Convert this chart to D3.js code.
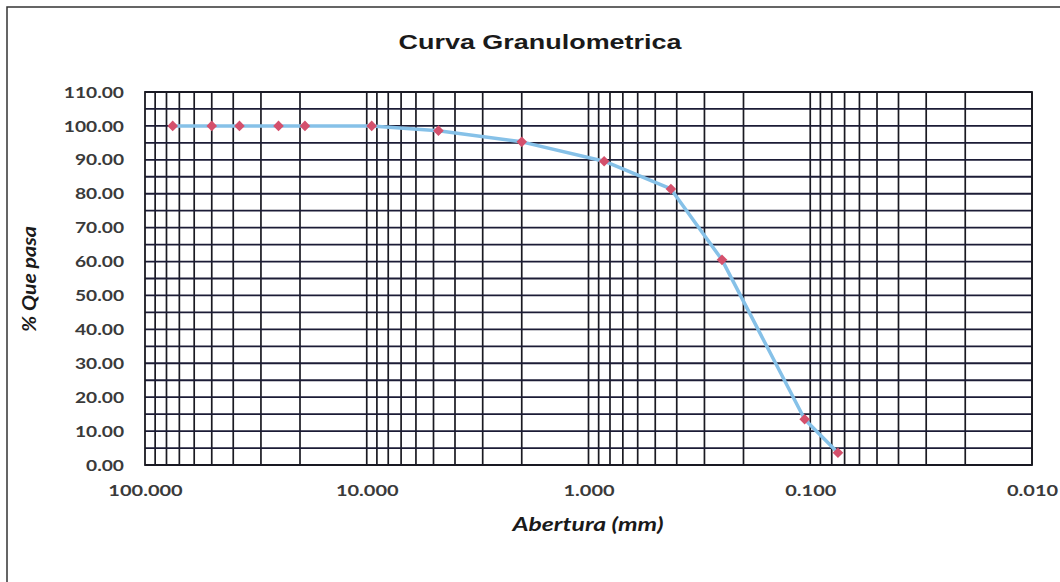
<!DOCTYPE html>
<html><head><meta charset="utf-8">
<script src="https://cdn.jsdelivr.net/npm/d3@7"></script>
<style>
body{margin:0;background:#fff;}
svg{display:block;}
</style></head>
<body>
<svg id="c" width="1060" height="582"></svg>
<script>
const aberturas = [75, 50, 37.5, 25, 19, 9.5, 4.75, 2.0, 0.85, 0.425, 0.25, 0.106, 0.075];
const pasa = [100, 100, 100, 100, 100, 100, 98.6, 95.3, 89.6, 81.4, 60.5, 13.5, 3.6];
const xTickValues = [100, 10, 1, 0.1, 0.01];
const yTickValues = [0, 10, 20, 30, 40, 50, 60, 70, 80, 90, 100, 110];
const yGridValues = d3.range(0, 111, 5);
const titulo = "Curva Granulometrica";
const xTitulo = "Abertura (mm)";
const yTitulo = "% Que pasa";

const svg = d3.select("#c");
const m = {l:145, r:1032, t:92, b:465};
const x = d3.scaleLog().domain([100, 0.01]).range([m.l, m.r]);
const y = d3.scaleLinear().domain([0, 110]).range([m.b, m.t]);
const FONT = "Lato, 'Open Sans', sans-serif";

function stretch(sel, k) {
  sel.each(function(){
    const L = this.getComputedTextLength();
    d3.select(this).attr("textLength", L*k).attr("lengthAdjust","spacingAndGlyphs");
  });
}

// outer frame
svg.append("rect").attr("x",7).attr("y",7).attr("width",1100).attr("height",700)
  .attr("fill","none").attr("stroke","#333").attr("stroke-width",1.5);

// vertical grid (log minors)
const xGrid = [];
[10, 1, 0.1, 0.01].forEach(dec => { for (let k=1;k<=9;k++) xGrid.push(dec*k); });
svg.append("g").selectAll("line").data(xGrid).join("line")
  .attr("x1", d=>x(d)).attr("x2", d=>x(d)).attr("y1", m.t).attr("y2", m.b)
  .attr("stroke","#1a1a22").attr("stroke-width",1.7);

// horizontal grid
svg.append("g").selectAll("line").data(yGridValues).join("line")
  .attr("x1", m.l).attr("x2", m.r).attr("y1", d=>y(d)).attr("y2", d=>y(d))
  .attr("stroke","#1c1c36").attr("stroke-width",1.8);

// plot border
svg.append("rect").attr("x",m.l).attr("y",m.t).attr("width",m.r-m.l).attr("height",m.b-m.t)
  .attr("fill","none").attr("stroke","#1a1a22").attr("stroke-width",1.8);

// y axis labels
const yAxis = d3.axisLeft(y).tickValues(yTickValues).tickFormat(d3.format(".2f")).tickSize(0).tickPadding(21);
const ya = svg.append("g").attr("transform",`translate(${m.l},0)`).call(yAxis);
ya.select(".domain").remove();
ya.selectAll("text").attr("font-family",FONT).attr("font-size",16)
  .attr("font-weight","bold").attr("fill","#3a3a3a").call(stretch, 1.2);

// x axis labels
const xAxis = d3.axisBottom(x).tickValues(xTickValues).tickFormat(d3.format(".3f")).tickSize(0).tickPadding(20);
const xa = svg.append("g").attr("transform",`translate(0,${m.b})`).call(xAxis);
xa.select(".domain").remove();
xa.selectAll("text").attr("font-family",FONT).attr("font-size",16)
  .attr("font-weight","bold").attr("fill","#3a3a3a").call(stretch, 1.25);

// line
const pts = aberturas.map((a,i)=>[a,pasa[i]]);
svg.append("path").datum(pts)
  .attr("d", d3.line().x(d=>x(d[0])).y(d=>y(d[1])))
  .attr("fill","none").attr("stroke","#86c1e8").attr("stroke-width",3.5)
  .attr("stroke-linejoin","round");

// markers (diamonds)
svg.append("g").selectAll("path").data(pts).join("path")
  .attr("d", d3.symbol().type(d3.symbolSquare).size(56))
  .attr("transform", d=>`translate(${x(d[0])},${y(d[1])}) rotate(45)`)
  .attr("fill","#d4506c");

// titles
svg.append("text").attr("x",540).attr("y",49).attr("text-anchor","middle")
  .attr("font-family","'Liberation Sans', Arial, sans-serif").attr("font-weight","bold")
  .attr("font-size",21).attr("fill","#1a1a1a").text(titulo)
  .attr("textLength",283).attr("lengthAdjust","spacingAndGlyphs");
svg.append("text").attr("x",588).attr("y",531).attr("text-anchor","middle")
  .attr("font-family",FONT).attr("font-weight","bold").attr("font-style","italic")
  .attr("font-size",19).attr("fill","#1a1a1a").text(xTitulo)
  .attr("textLength",151).attr("lengthAdjust","spacingAndGlyphs");
svg.append("text").attr("transform","translate(36,279) rotate(-90)").attr("text-anchor","middle")
  .attr("font-family",FONT).attr("font-weight","bold").attr("font-style","italic")
  .attr("font-size",19).attr("fill","#1a1a1a").text(yTitulo)
  .attr("textLength",106).attr("lengthAdjust","spacingAndGlyphs");
</script>
</body></html>
